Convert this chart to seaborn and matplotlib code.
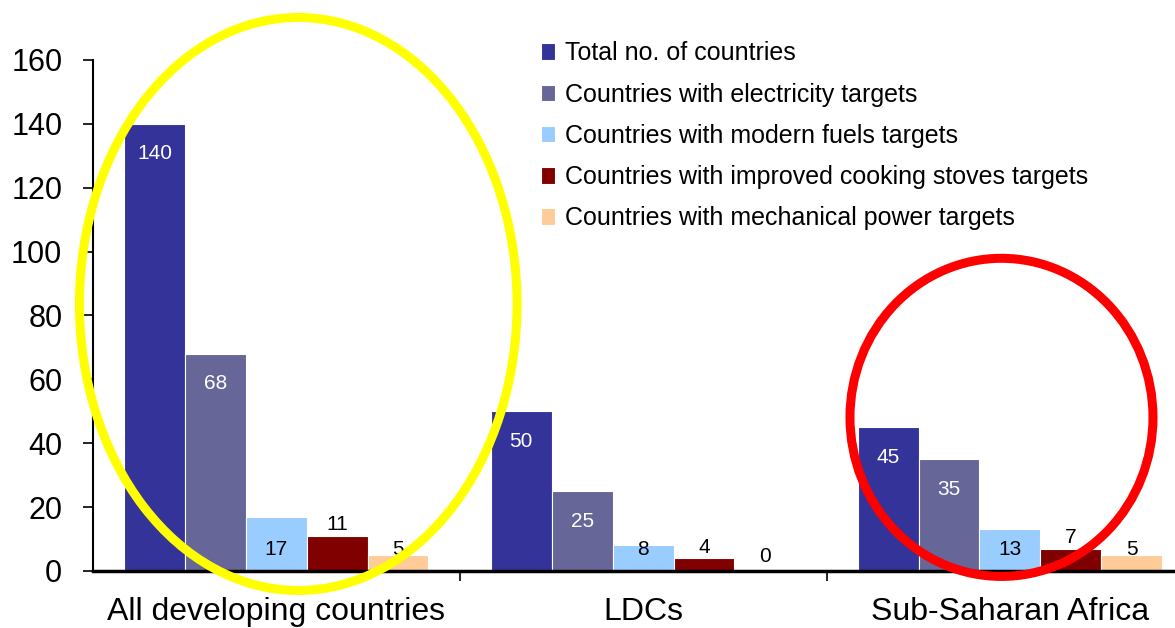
import pandas as pd
import numpy as np
import matplotlib.pyplot as plt
import seaborn as sns
from matplotlib.patches import Ellipse

# data
regions = ["All developing countries", "LDCs", "Sub-Saharan Africa"]
series = ["Total no. of countries",
          "Countries with electricity targets",
          "Countries with modern fuels targets",
          "Countries with improved cooking stoves targets",
          "Countries with mechanical power targets"]
total = [140, 50, 45]
electricity = [68, 25, 35]
modern_fuels = [17, 8, 13]
cooking_stoves = [11, 4, 7]
mech_power = [5, 0, 5]
colors = ["#333399", "#666699", "#99CCFF", "#800000", "#FFCC99"]

rows = []
for s, vals in zip(series, [total, electricity, modern_fuels, cooking_stoves, mech_power]):
    for r, v in zip(regions, vals):
        rows.append([r, s, v])
df = pd.DataFrame(rows, columns=["Region", "Series", "Count"])

sns.set_style("white")
plt.rcParams["font.family"] = ["Liberation Sans", "DejaVu Sans"]
plt.rcParams["text.color"] = "black"
plt.rcParams["xtick.color"] = "black"
plt.rcParams["ytick.color"] = "black"
plt.rcParams["axes.labelcolor"] = "black"

fig = plt.figure(figsize=(11.75, 6.28), dpi=100)
ax = fig.add_axes([0.079, 0.0908, 0.921, 0.8137])

sns.barplot(data=df, x="Region", y="Count", hue="Series", palette=colors,
            saturation=1, width=0.83, edgecolor="white", linewidth=0.8, ax=ax)

ax.set_ylim(0, 160)
ax.set_xlim(-0.5, 2.45)
ax.set_yticks(range(0, 161, 20))
ax.set_xlabel("")
ax.set_ylabel("")

# bar value labels
for i, cont in enumerate(ax.containers):
    for bar in cont:
        h = bar.get_height()
        xc = bar.get_x() + bar.get_width() / 2
        txt = f"{int(round(h))}"
        if i in (0, 1):
            ax.text(xc, h - 9.4, txt, color="white", ha="center", va="center", fontsize=15)
        elif i == 3:
            ax.text(xc, h + 3.5, txt, color="black", ha="center", va="center", fontsize=15)
        else:
            yy = 6.8 if h > 0 else 4.5
            ax.text(xc, yy, txt, color="black", ha="center", va="center", fontsize=15)

sns.despine(ax=ax, top=True, right=True)
ax.spines["left"].set_linewidth(1.5)
ax.spines["bottom"].set_linewidth(2.5)
ax.spines["left"].set_color("black")
ax.spines["bottom"].set_color("black")

ax.tick_params(axis="y", direction="out", length=7, width=1.2, labelsize=22, pad=15, left=True)
ax.tick_params(axis="x", which="major", length=0, labelsize=23, pad=19)
ax.set_xticks([0.5, 1.5], minor=True)
ax.tick_params(axis="x", which="minor", direction="out", length=7, width=1.2, bottom=True)

leg = ax.legend(loc="upper left", bbox_to_anchor=(0.4604, 0.934), bbox_transform=fig.transFigure,
                frameon=False, fontsize=18, handlelength=0.56, handleheight=0.64,
                handletextpad=0.4, labelspacing=0.69, borderpad=0, borderaxespad=0)

# highlight ellipses
ax.add_patch(Ellipse((0.06, 83.6), 1.193, 179.4, fill=False, edgecolor="#FFFF00",
                     linewidth=6.5, clip_on=False, zorder=10))
ax.add_patch(Ellipse((1.977, 48.1), 0.826, 99.6, fill=False, edgecolor="#FF0000",
                     linewidth=6.5, clip_on=False, zorder=10))

fig.savefig("out.png", dpi=100)
